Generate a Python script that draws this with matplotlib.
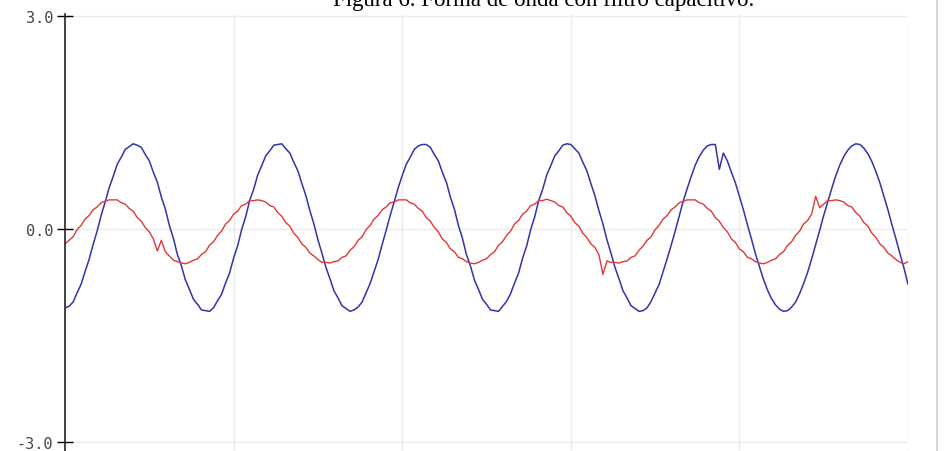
import numpy as np
import matplotlib
matplotlib.use('Agg')
import matplotlib.pyplot as plt
from matplotlib.lines import Line2D

# valeurs (211 échantillons de 0 à 5)
tension = [
    -1.11, -1.09, -1.03, -0.90, -0.78, -0.60, -0.43, -0.22, -0.03, 0.19, 0.38, 0.58, 0.74, 0.91, 1.01, 1.12, 1.16, 1.20,
    1.18, 1.15, 1.05, 0.96, 0.80, 0.66, 0.45, 0.28, 0.05, -0.13, -0.36, -0.52, -0.72, -0.85, -0.99, -1.06, -1.14, -1.15,
    -1.16, -1.11, -1.01, -0.92, -0.76, -0.62, -0.41, -0.24, -0.01, 0.17, 0.40, 0.56, 0.76, 0.89, 1.03, 1.10, 1.18, 1.19,
    1.20, 1.13, 1.07, 0.94, 0.82, 0.64, 0.47, 0.26, 0.07, -0.15, -0.34, -0.54, -0.70, -0.87, -0.97, -1.08, -1.12, -1.16,
    -1.14, -1.10, -1.03, -0.90, -0.77, -0.60, -0.43, -0.22, -0.02, 0.19, 0.38, 0.58, 0.75, 0.91, 1.01, 1.12, 1.17, 1.19,
    1.19, 1.15, 1.05, 0.96, 0.80, 0.66, 0.45, 0.28, 0.05, -0.13, -0.36, -0.52, -0.72, -0.85, -0.99, -1.06, -1.14, -1.15,
    -1.16, -1.09, -1.02, -0.91, -0.76, -0.62, -0.41, -0.24, -0.01, 0.17, 0.40, 0.56, 0.76, 0.89, 1.03, 1.10, 1.18, 1.20,
    1.19, 1.13, 1.07, 0.94, 0.82, 0.64, 0.47, 0.26, 0.07, -0.15, -0.34, -0.54, -0.70, -0.87, -0.97, -1.08, -1.12, -1.16,
    -1.15, -1.11, -1.02, -0.90, -0.78, -0.60, -0.42, -0.23, -0.03, 0.18, 0.39, 0.57, 0.74, 0.90, 1.02, 1.11, 1.17, 1.19,
    1.19, 0.84, 1.07, 0.96, 0.80, 0.65, 0.46, 0.27, 0.06, -0.14, -0.35, -0.53, -0.71, -0.86, -0.98, -1.07, -1.13, -1.16,
    -1.15, -1.10, -1.03, -0.91, -0.77, -0.61, -0.42, -0.22, -0.02, 0.19, 0.38, 0.57, 0.75, 0.90, 1.02, 1.11, 1.17, 1.20,
    1.19, 1.14, 1.06, 0.95, 0.81, 0.65, 0.46, 0.27, 0.06, -0.14, -0.35, -0.55, -0.78,
]
corriente = [
    -0.21, -0.16, -0.11, -0.01, 0.05, 0.14, 0.19, 0.27, 0.31, 0.37, 0.39, 0.41, 0.41, 0.41, 0.37, 0.35, 0.29, 0.25,
    0.16, 0.11, 0.02, -0.04, -0.14, -0.31, -0.16, -0.32, -0.38, -0.44, -0.46, -0.48, -0.49, -0.47, -0.44, -0.42, -0.36, -0.32,
    -0.23, -0.18, -0.09, -0.03, 0.07, 0.12, 0.21, 0.25, 0.33, 0.35, 0.40, 0.40, 0.41, 0.40, 0.38, 0.33, 0.31, 0.23,
    0.18, 0.09, 0.04, -0.06, -0.12, -0.21, -0.26, -0.34, -0.38, -0.43, -0.47, -0.47, -0.48, -0.46, -0.45, -0.40, -0.38, -0.30,
    -0.25, -0.16, -0.11, -0.01, 0.05, 0.14, 0.19, 0.27, 0.31, 0.37, 0.38, 0.41, 0.41, 0.41, 0.37, 0.35, 0.29, 0.25,
    0.16, 0.11, 0.02, -0.04, -0.14, -0.19, -0.28, -0.32, -0.40, -0.42, -0.46, -0.48, -0.49, -0.47, -0.44, -0.42, -0.36, -0.32,
    -0.23, -0.18, -0.09, -0.03, 0.07, 0.12, 0.21, 0.25, 0.33, 0.35, 0.40, 0.40, 0.42, 0.40, 0.38, 0.33, 0.31, 0.23,
    0.18, 0.09, 0.04, -0.06, -0.12, -0.21, -0.26, -0.36, -0.64, -0.45, -0.47, -0.47, -0.48, -0.46, -0.45, -0.40, -0.38, -0.30,
    -0.24, -0.16, -0.11, -0.01, 0.05, 0.14, 0.19, 0.27, 0.31, 0.37, 0.39, 0.41, 0.41, 0.41, 0.37, 0.35, 0.29, 0.25,
    0.16, 0.11, 0.02, -0.04, -0.14, -0.19, -0.28, -0.32, -0.40, -0.42, -0.46, -0.48, -0.49, -0.47, -0.44, -0.42, -0.36, -0.32,
    -0.23, -0.18, -0.09, -0.03, 0.07, 0.12, 0.21, 0.46, 0.30, 0.35, 0.40, 0.40, 0.41, 0.40, 0.38, 0.33, 0.31, 0.23,
    0.18, 0.09, 0.04, -0.06, -0.12, -0.21, -0.26, -0.34, -0.38, -0.43, -0.47, -0.49, -0.46,
]
t = np.linspace(0, 5, len(tension))

yticks = [-3.0, 0.0, 3.0]
ylabels = ['-3.0', '0.0', '3.0']

fig = plt.figure(figsize=(9.47, 4.52), dpi=100)
ax = fig.add_axes([65 / 947, 0.0, (908 - 65) / 947, 1 - 15 / 452])

ax.plot(t, tension, color='#3333aa', lw=1.1)
ax.plot(t, corriente, color='#e03838', lw=1.0)

ax.set_xlim(0, 5)
ax.set_ylim(-3.127, 3.028)
ax.set_xticks([1, 2, 3, 4, 5])
ax.set_xticklabels([])
ax.tick_params(axis='x', length=0)
ax.set_yticks(yticks)
ax.set_yticklabels(ylabels, fontfamily='DejaVu Sans Mono', fontsize=11, color='#444444')
ax.tick_params(axis='y', direction='inout', length=11, width=1, pad=3)
ax.grid(True, color='#ececec', lw=1)
ax.set_axisbelow(True)

for s in ['top', 'right', 'bottom']:
    ax.spines[s].set_visible(False)
ax.spines['left'].set_color('#222222')
ax.spines['left'].set_linewidth(1.2)

# cadre à droite
fig.add_artist(Line2D([937 / 947, 937 / 947], [0, 1], color='#d6d6d6', lw=1.5))

# titre coupé en haut
fig.text(0.574, 1 - 6 / 452, 'Figura 6. Forma de onda con filtro capacitivo.',
         ha='center', va='baseline', fontsize=16.5, family='Liberation Serif')

fig.savefig('out.png', dpi=100)
